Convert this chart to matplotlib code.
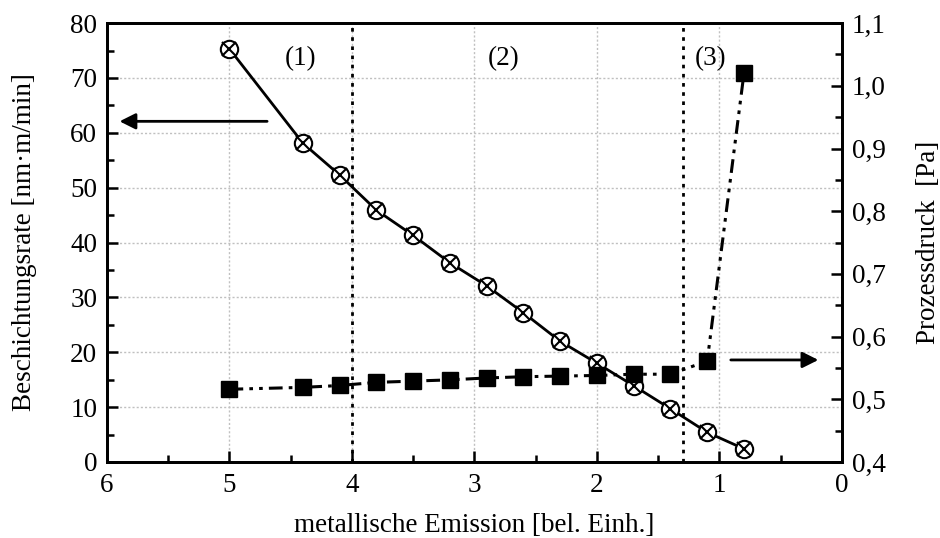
import matplotlib
matplotlib.use("Agg")
import matplotlib.pyplot as plt
from matplotlib.ticker import MultipleLocator, FuncFormatter

# ------------------------------------------
# data
# ------------------------------------------
emission = [5.0, 4.4, 4.1, 3.8, 3.5, 3.2, 2.9, 2.6, 2.3, 2.0, 1.7, 1.4, 1.1, 0.8]
rate = [75.3, 58.1, 52.3, 45.9, 41.3, 36.3, 32.1, 27.2, 22.0, 18.0, 13.9, 9.7, 5.4, 2.4]
pressure = [0.516, 0.519, 0.522, 0.527, 0.529, 0.531, 0.534, 0.536, 0.537,
            0.538, 0.540, 0.540, 0.561, 1.020]

region_bounds = [4.0, 1.3]
region_labels = ["(1)", "(2)", "(3)"]
region_label_x = [4.42, 2.76, 1.07]

plt.rcParams["font.family"] = ["Liberation Serif", "DejaVu Serif"]
FS = 19.5

fig = plt.figure(figsize=(9.4, 5.38), dpi=100)
ax = fig.add_axes([0.1138, 0.1413, 0.7819, 0.8157])
ax2 = ax.twinx()

# grid (left axis majors + x majors)
ax.grid(True, which="major", color="#c0c0c0", linestyle=(0, (1.5, 1.5)), lw=1.0)
ax.set_axisbelow(True)

# region separators
for xb in region_bounds:
    ax.axvline(xb, color="black", lw=2.0, linestyle=(0, (1.3, 2.0)), zorder=2)

# deposition rate: circle with cross
ax.plot(emission, rate, color="black", lw=2.0, zorder=3)
ax.plot(emission, rate, linestyle="none", marker="o", ms=12.5, mfc="white",
        mec="black", mew=1.5, zorder=4)
ax.plot(emission, rate, linestyle="none", marker="x", ms=9.5, mec="black",
        mew=1.5, zorder=5)

# process pressure: filled squares, dash-dot-dot line
ax2.plot(emission, pressure, color="black", lw=2.2,
         linestyle=(0, (4.5, 2, 1.2, 2, 1.2, 2)), zorder=3)
ax2.plot(emission, pressure, linestyle="none", marker="s", ms=11.5,
         mfc="black", mec="black", zorder=4)

# region labels
for lbl, xl in zip(region_labels, region_label_x):
    ax.text(xl, 73.5, lbl, ha="center", va="center", fontsize=FS)

# axis arrows
arrow = dict(arrowstyle="-|>", color="black", lw=2.0, mutation_scale=24)
ax.annotate("", xy=(5.92, 62.1), xytext=(4.67, 62.1), arrowprops=arrow)
ax.annotate("", xy=(0.17, 18.6), xytext=(0.93, 18.6), arrowprops=arrow)

# axes limits and ticks
ax.set_xlim(6, 0)
ax.set_ylim(0, 80)
ax2.set_ylim(0.4, 1.1)

ax.xaxis.set_major_locator(MultipleLocator(1))
ax.xaxis.set_minor_locator(MultipleLocator(0.5))
ax.yaxis.set_major_locator(MultipleLocator(10))
ax.yaxis.set_minor_locator(MultipleLocator(5))
ax2.yaxis.set_major_locator(MultipleLocator(0.1))
ax2.yaxis.set_minor_locator(MultipleLocator(0.05))
ax2.yaxis.set_major_formatter(FuncFormatter(lambda v, p: f"{v:.1f}".replace(".", ",")))

ax.tick_params(axis="both", which="major", direction="in", length=8, width=1.8,
               labelsize=FS, pad=7)
ax.tick_params(axis="both", which="minor", direction="in", length=5, width=1.8)
ax.tick_params(axis="x", which="major", pad=8)
ax2.tick_params(axis="y", which="major", direction="in", length=8, width=1.8,
                labelsize=FS, pad=7)
ax2.tick_params(axis="y", which="minor", direction="in", length=5, width=1.8)

for a in (ax, ax2):
    for sp in a.spines.values():
        sp.set_linewidth(2.0)

ax.set_xlabel("metallische Emission [bel. Einh.]", fontsize=FS, labelpad=11)
ax.set_ylabel("Beschichtungsrate [nm·m/min]", fontsize=FS, labelpad=24)
ax2.set_ylabel("Prozessdruck  [Pa]", fontsize=FS, labelpad=22)

fig.savefig("out.png", dpi=100)
